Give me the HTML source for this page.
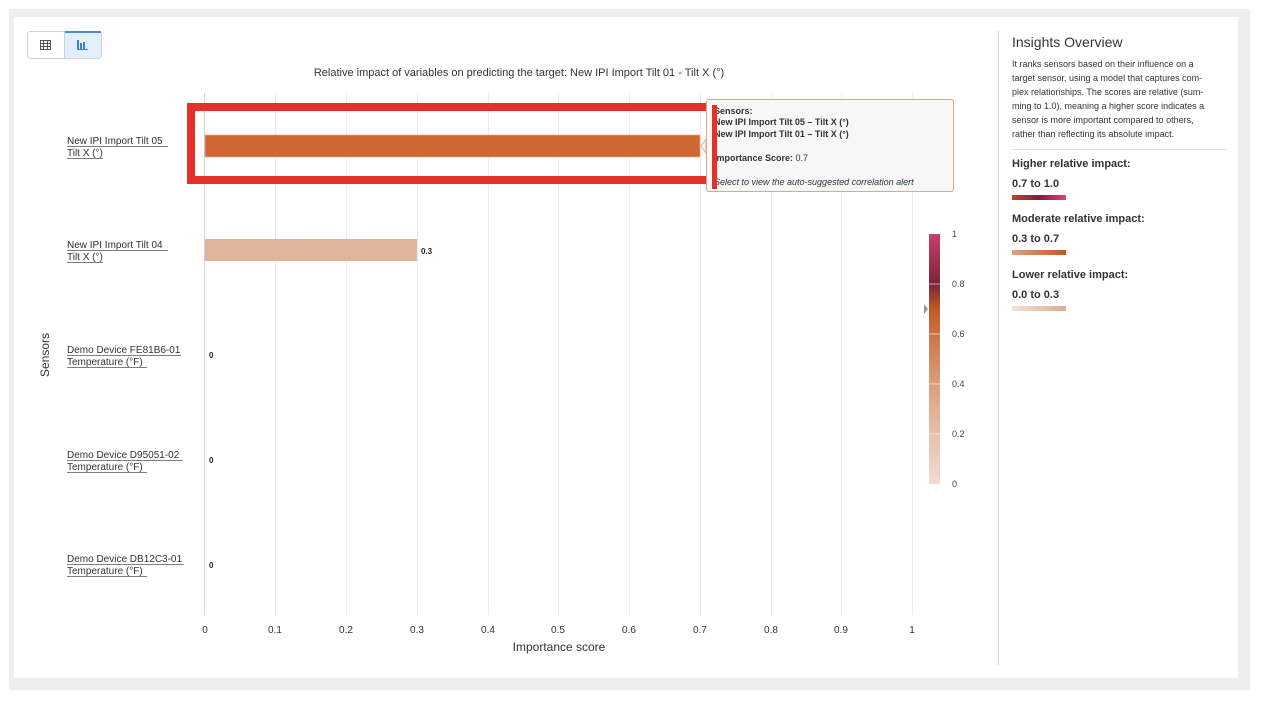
<!DOCTYPE html>
<html><head><meta charset="utf-8"><style>
html,body{margin:0;padding:0;width:1262px;height:702px;background:#fff;overflow:hidden;font-family:"Liberation Sans",sans-serif;}
svg text{font-family:"Liberation Sans",sans-serif;}
</style></head><body>
<svg width="1262" height="702" xmlns="http://www.w3.org/2000/svg">
<defs>
<linearGradient id="cb" x1="0" y1="1" x2="0" y2="0">
<stop offset="0" stop-color="#f2dcd2"/><stop offset="0.3" stop-color="#e0b196"/><stop offset="0.55" stop-color="#d07f55"/><stop offset="0.7" stop-color="#c05a24"/><stop offset="0.8" stop-color="#7a2438"/><stop offset="1" stop-color="#c93f6c"/></linearGradient>
<linearGradient id="g1"><stop offset="0" stop-color="#b84a2a"/><stop offset="0.5" stop-color="#7a1f45"/><stop offset="1" stop-color="#d8467a"/></linearGradient>
<linearGradient id="g2"><stop offset="0" stop-color="#dca283"/><stop offset="1" stop-color="#c4561e"/></linearGradient>
<linearGradient id="g3"><stop offset="0" stop-color="#f3e0d6"/><stop offset="1" stop-color="#deac90"/></linearGradient>
</defs>
<rect x="9" y="9" width="1241" height="681" fill="#eceef0"/>
<rect x="14" y="17" width="1224" height="661" fill="#fff"/>
<rect x="27.5" y="31.5" width="74" height="27" rx="3" fill="#fff" stroke="#cfd3d8"/>
<rect x="65" y="32" width="36" height="26" fill="#e3f0fb"/>
<rect x="65" y="31" width="36" height="2" fill="#4a8ccf"/>
<line x1="64.5" y1="32" x2="64.5" y2="58" stroke="#cfd3d8"/>
<g stroke="#555" stroke-width="1" fill="none"><rect x="40.5" y="40.5" width="10" height="9"/><line x1="40" y1="43.5" x2="51" y2="43.5"/><line x1="40" y1="46.5" x2="51" y2="46.5"/><line x1="43.5" y1="40" x2="43.5" y2="50"/><line x1="47.5" y1="40" x2="47.5" y2="50"/></g>
<g fill="#3f82c8"><rect x="77" y="40" width="2" height="9"/><rect x="80" y="43" width="2" height="6"/><rect x="83" y="42" width="2" height="7"/><rect x="77" y="49" width="11" height="1"/></g>
<text x="519" y="76" font-size="11" fill="#333" text-anchor="middle">Relative impact of variables on predicting the target: New IPI Import Tilt 01 - Tilt X (°)</text>
<g stroke="#ececf0" stroke-width="1">
<line x1="275.5" y1="93" x2="275.5" y2="615"/><line x1="346.5" y1="93" x2="346.5" y2="615"/><line x1="417.5" y1="93" x2="417.5" y2="615"/><line x1="488.5" y1="93" x2="488.5" y2="615"/><line x1="558.5" y1="93" x2="558.5" y2="615"/><line x1="629.5" y1="93" x2="629.5" y2="615"/><line x1="700.5" y1="93" x2="700.5" y2="615"/><line x1="771.5" y1="93" x2="771.5" y2="615"/><line x1="841.5" y1="93" x2="841.5" y2="615"/><line x1="912.5" y1="93" x2="912.5" y2="615"/></g>
<line x1="204.5" y1="93" x2="204.5" y2="615" stroke="#ccd3e6"/>
<g font-size="10" fill="#333" text-anchor="middle">
<text x="205" y="633">0</text><text x="275" y="633">0.1</text><text x="346" y="633">0.2</text><text x="417" y="633">0.3</text><text x="488" y="633">0.4</text><text x="558" y="633">0.5</text><text x="629" y="633">0.6</text><text x="700" y="633">0.7</text><text x="771" y="633">0.8</text><text x="841" y="633">0.9</text><text x="912" y="633">1</text></g>
<text x="559" y="651" font-size="12" fill="#333" text-anchor="middle">Importance score</text>
<text transform="translate(49,355) rotate(-90)" font-size="12" fill="#333" text-anchor="middle">Sensors</text>
<rect x="205" y="135" width="495" height="22" fill="#cf6732" stroke="#e9a988" stroke-width="0.7"/>
<rect x="205" y="239" width="212" height="22" fill="#e1b59c"/>
<g font-size="8" font-weight="bold" fill="#222"><text x="421" y="254">0.3</text><text x="209" y="358">0</text><text x="209" y="463">0</text><text x="209" y="568">0</text></g>
<g font-size="10" fill="#333">
<text x="67" y="144">New IPI Import Tilt 05</text><text x="67" y="156">Tilt X (°)</text>
<text x="67" y="248">New IPI Import Tilt 04</text><text x="67" y="260">Tilt X (°)</text>
<text x="67" y="353">Demo Device FE81B6-01</text><text x="67" y="365">Temperature (°F)</text>
<text x="67" y="458">Demo Device D95051-02</text><text x="67" y="470">Temperature (°F)</text>
<text x="67" y="562">Demo Device DB12C3-01</text><text x="67" y="574">Temperature (°F)</text></g>
<g stroke="#555" stroke-width="0.8">
<line x1="67" y1="146.5" x2="168" y2="146.5"/><line x1="67" y1="158.5" x2="103" y2="158.5"/>
<line x1="67" y1="250.5" x2="168" y2="250.5"/><line x1="67" y1="262.5" x2="103" y2="262.5"/>
<line x1="67" y1="355.5" x2="181" y2="355.5"/><line x1="67" y1="367.5" x2="147" y2="367.5"/>
<line x1="67" y1="460.5" x2="183" y2="460.5"/><line x1="67" y1="472.5" x2="147" y2="472.5"/>
<line x1="67" y1="564.5" x2="184" y2="564.5"/><line x1="67" y1="576.5" x2="147" y2="576.5"/></g>
<rect x="191" y="107" width="523" height="73" fill="none" stroke="#e53127" stroke-width="8"/>
<rect x="706.5" y="99.5" width="247" height="92" rx="2" fill="#f7f7f7" stroke="#d9a98e"/>
<path d="M706 139 L701 146 L706 153 Z" fill="#f7f7f7" stroke="#d9a98e"/>
<rect x="712" y="102" width="6" height="86" fill="#f7f7f7"/>
<g font-size="9" fill="#333">
<text x="714" y="114" font-weight="bold">Sensors:</text>
<text x="714" y="125" font-weight="bold">New IPI Import Tilt 05 – Tilt X (°)</text>
<text x="714" y="137" font-weight="bold">New IPI Import Tilt 01 – Tilt X (°)</text>
<text x="714" y="161"><tspan font-weight="bold">Importance Score:</tspan> 0.7</text>
<text x="714" y="185" font-style="italic">Select to view the auto-suggested correlation alert</text></g>
<rect x="712" y="105" width="5" height="84" fill="#e53127"/>
<rect x="929" y="234" width="11" height="250" fill="url(#cb)"/>
<g stroke="#fff" stroke-opacity="0.6"><line x1="929" y1="284" x2="940" y2="284"/><line x1="929" y1="334" x2="940" y2="334"/><line x1="929" y1="384" x2="940" y2="384"/><line x1="929" y1="434" x2="940" y2="434"/></g>
<path d="M924 304 L928 309 L924 314 Z" fill="#999"/>
<g font-size="9" fill="#444"><text x="952" y="237">1</text><text x="952" y="287">0.8</text><text x="952" y="337">0.6</text><text x="952" y="387">0.4</text><text x="952" y="437">0.2</text><text x="952" y="487">0</text></g>
<line x1="998.5" y1="31" x2="998.5" y2="665" stroke="#d8d8d8"/>
<text x="1012" y="47" font-size="14" fill="#333">Insights Overview</text>
<g font-size="9" fill="#333">
<text x="1012" y="67">It ranks sensors based on their influence on a</text>
<text x="1012" y="81">target sensor, using a model that captures com-</text>
<text x="1012" y="95">plex relationships. The scores are relative (sum-</text>
<text x="1012" y="109">ming to 1.0), meaning a higher score indicates a</text>
<text x="1012" y="123">sensor is more important compared to others,</text>
<text x="1012" y="137">rather than reflecting its absolute impact.</text></g>
<line x1="1012" y1="149.5" x2="1226" y2="149.5" stroke="#e2e2e2"/>
<g font-size="11" font-weight="bold" fill="#333">
<text x="1012" y="167">Higher relative impact:</text><text x="1012" y="187">0.7 to 1.0</text>
<text x="1012" y="222">Moderate relative impact:</text><text x="1012" y="242">0.3 to 0.7</text>
<text x="1012" y="278">Lower relative impact:</text><text x="1012" y="298">0.0 to 0.3</text></g>
<rect x="1012" y="195" width="54" height="5" fill="url(#g1)"/>
<rect x="1012" y="250" width="54" height="5" fill="url(#g2)"/>
<rect x="1012" y="306" width="54" height="5" fill="url(#g3)"/>
</svg>
</body></html>
